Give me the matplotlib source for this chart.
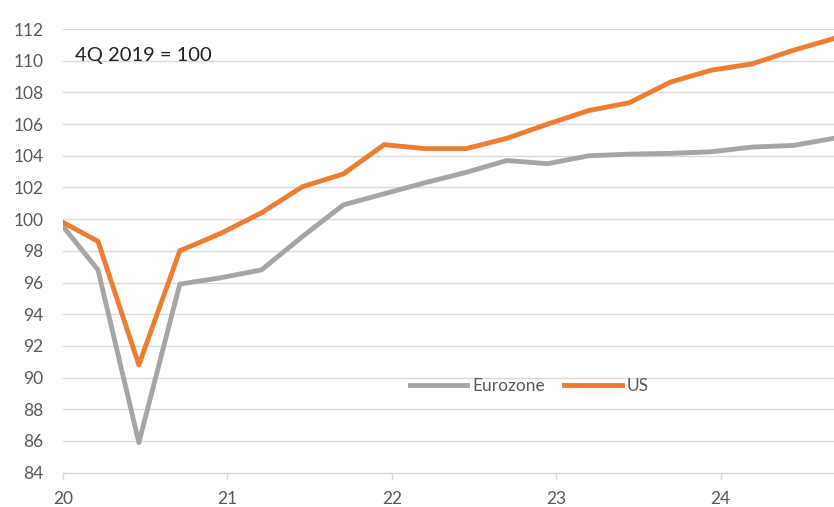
import numpy as np
import matplotlib
matplotlib.use('Agg')
import matplotlib.pyplot as plt

plt.rcParams['font.family'] = ['Lato', 'DejaVu Sans']

# quarterly index, 4Q 2019 = 100 (4Q19 .. 3Q24)
quarters = ['4Q19', '1Q20', '2Q20', '3Q20', '4Q20',
            '1Q21', '2Q21', '3Q21', '4Q21',
            '1Q22', '2Q22', '3Q22', '4Q22',
            '1Q23', '2Q23', '3Q23', '4Q23',
            '1Q24', '2Q24', '3Q24']
eurozone = [100.0, 96.8, 85.9, 95.9, 96.3,
            96.8, 98.9, 100.9, 101.6,
            102.3, 102.95, 103.7, 103.5,
            104.0, 104.1, 104.15, 104.25,
            104.55, 104.65, 105.1]
us = [100.0, 98.6, 90.8, 98.0, 99.1,
      100.4, 102.05, 102.85, 104.7,
      104.45, 104.45, 105.1, 106.0,
      106.85, 107.35, 108.65, 109.4,
      109.8, 110.65, 111.4]
year_ticks = [20, 21, 22, 23, 24]

# date axis: points sit a bit after quarter start
xpos = 20.213 + 0.2487 * (np.arange(len(quarters)) - 1)

fig = plt.figure(figsize=(8.34, 5.07), dpi=100)
ax = fig.add_axes([0.0755, 0.0677, 0.9245, 0.8751])

grid_c = '#d9d9d9'
txt_c = '#595959'

for v in range(86, 113, 2):
    ax.axhline(v, color=grid_c, lw=1.0, zorder=1)

ax.plot(xpos, eurozone, color='#a5a5a5', lw=3.5, label='Eurozone',
        solid_joinstyle='round', zorder=3)
ax.plot(xpos, us, color='#ed7d31', lw=3.5, label='US',
        solid_joinstyle='round', zorder=4)

ax.set_xlim(20, xpos[-1])
ax.set_ylim(84, 112)
ax.set_yticks(range(84, 113, 2))
ax.set_xticks(year_ticks)
ax.set_xticklabels([str(y) for y in year_ticks])

for s in ['top', 'right', 'left']:
    ax.spines[s].set_visible(False)
ax.spines['bottom'].set_color(grid_c)
ax.spines['bottom'].set_linewidth(1.0)

ax.tick_params(axis='y', length=0, pad=14, labelsize=12.5, labelcolor=txt_c)
ax.tick_params(axis='x', length=5, width=1.0, color=grid_c, pad=8,
               labelsize=12.5, labelcolor=txt_c)

ax.text(0.016, 0.96, '4Q 2019 = 100', transform=ax.transAxes,
        fontsize=14.5, color='#222222', va='top', ha='left')

leg = ax.legend(loc='center', bbox_to_anchor=(0.605, 0.195), ncol=2,
                frameon=False, fontsize=12.5, handlelength=3.3,
                handletextpad=0.3, columnspacing=1.1)
for t in leg.get_texts():
    t.set_color(txt_c)

fig.savefig('out.png', dpi=100)
